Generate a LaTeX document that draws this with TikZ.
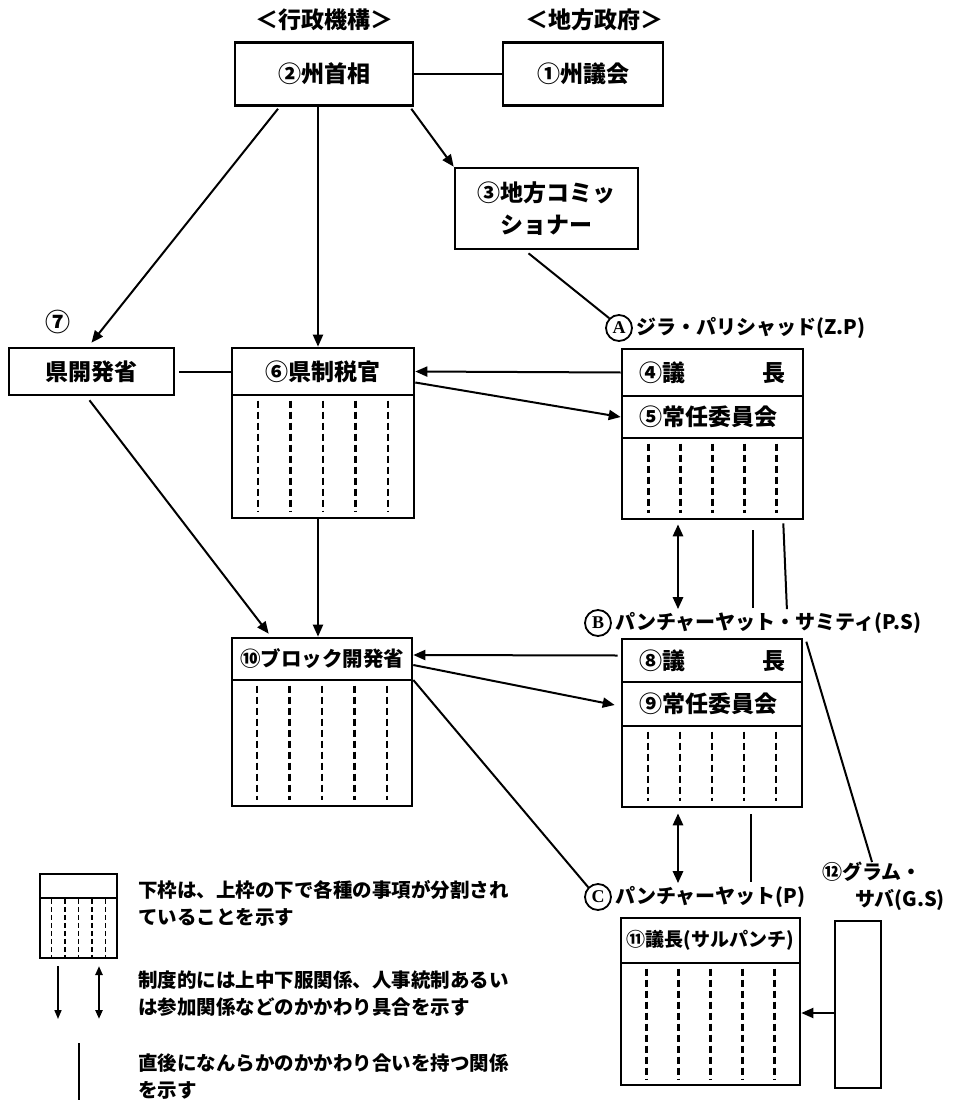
\documentclass[tikz,border=0pt]{standalone}
\usepackage{fontspec}
\setmainfont{Noto Sans CJK JP}
\newfontfamily\lserif{Liberation Serif}
\usetikzlibrary{arrows.meta,calc}
\newcommand\splitlines[2]{%
  \foreach \dx in {-2,-1,0,1,2}{%
    \draw[splitdash] ($(#1.north)+(\dx*#2,7)$) -- ($(#1.south)+(\dx*#2,-7)$);}}
\begin{document}
\begin{tikzpicture}[x=1pt,y=-1pt,
  box/.style={draw, line width=2.6pt, inner sep=0pt, font=\bfseries\fontsize{23}{32}\selectfont},
  lbl/.style={font=\bfseries\fontsize{20}{26}\selectfont, inner sep=0pt, anchor=west},
  leg/.style={font=\bfseries\fontsize{19.5}{27}\selectfont, anchor=west, inner sep=0pt, align=left},
  circ/.style={circle, draw, line width=1.8pt, minimum size=26pt, inner sep=0pt, font=\lserif\bfseries\fontsize{18}{18}\selectfont},
  title/.style={font=\bfseries\fontsize{23}{27}\selectfont, inner sep=0pt},
  conn/.style={line width=2pt},
  arr/.style={line width=2pt, -{Triangle[length=12pt,width=10pt]}},
  dbl/.style={line width=2.6pt, {Triangle[length=12pt,width=10pt]}-{Triangle[length=12pt,width=10pt]}},
  splitdash/.style={line width=2.4pt, dash pattern=on 7pt off 4pt}]
\useasboundingbox (0,0) rectangle (953,1102);

% titles
\node[title] (t1) at (324,20) {＜行政機構＞};
\node[title] (t2) at (594,20) {＜地方政府＞};

% top boxes
\node[box, minimum width=178, minimum height=63] (n2) at (324,74) {②州首相};
\node[box, minimum width=160, minimum height=63] (n1) at (583,74) {①州議会};
\node[box, minimum width=183, minimum height=81, align=center] (n3) at (546.5,208.5) {③地方コミッ\\ショナー};

% district level
\node[font=\bfseries\fontsize{25}{25}\selectfont, inner sep=0pt] (l7) at (58,322) {⑦};
\node[box, minimum width=165, minimum height=47] (n7) at (91.5,371.5) {県開発省};
\node[box, minimum width=182, minimum height=47] (n6) at (323,371.5) {⑥県制税官};
\node[box, minimum width=182, minimum height=123] (n6b) at (323,456.5) {};
\splitlines{n6b}{32.5}

% Zila Parishad
\node[circ] (cA) at (619,328) {A};
\node[lbl] (lA) at ($(cA.east)+(3,0)$) {ジラ・パリシャッド(Z.P)};
\node[box, minimum width=181, minimum height=47, text width=146, align=left] (n4) at (712.5,372.5) {④議\hfill 長};
\node[box, minimum width=181, minimum height=42, text width=146, align=left] (n5) at (712.5,417) {⑤常任委員会};
\node[box, minimum width=181, minimum height=81] (nzpb) at (712.5,478.5) {};
\splitlines{nzpb}{32}

% Block
\node[box, minimum width=180, minimum height=42, font=\bfseries\fontsize{20.5}{26}\selectfont] (n10) at (322,659) {⑩ブロック開発省};
\node[box, minimum width=180, minimum height=126] (n10b) at (322,743) {};
\splitlines{n10b}{32.5}

% Panchayat Samiti
\node[circ] (cB) at (598,623) {B};
\node[lbl] (lB) at ($(cB.east)+(3,0)$) {パンチャーヤット・サミティ(P.S)};
\node[box, minimum width=180, minimum height=43, text width=146, align=left] (n8) at (712,660.5) {⑧議\hfill 長};
\node[box, minimum width=180, minimum height=44, text width=146, align=left] (n9) at (712,704) {⑨常任委員会};
\node[box, minimum width=180, minimum height=81] (npsb) at (712,766.5) {};
\splitlines{npsb}{32}

% Panchayat
\node[circ] (cC) at (598,897) {C};
\node[lbl] (lC) at ($(cC.east)+(3,0)$) {パンチャーヤット(P)};
\node[box, minimum width=179, minimum height=45, font=\bfseries\fontsize{19}{24}\selectfont] (n11) at (710.5,940.5) {⑪議長(サルパンチ)};
\node[box, minimum width=179, minimum height=122] (n11b) at (710.5,1024) {};
\splitlines{n11b}{32}

% Gram Sabha
\node[lbl, anchor=center] (l12a) at (872,872) {⑫グラム・};
\node[lbl, anchor=center] (l12b) at (900,900) {サバ(G.S)};
\node[box, minimum width=46, minimum height=167] (ngs) at (858,1004.5) {};

% helper coordinates for the vertical links
\coordinate (zpL) at ($(nzpb.south)+(-34.5,4)$);
\coordinate (zpLe) at (zpL |- lB.north);
\coordinate (zpR) at ($(nzpb.south)+(40.5,10)$);
\coordinate (zpRe) at (zpR |- lB.north);
\coordinate (psL) at ($(npsb.south)+(-34,5)$);
\coordinate (psLe) at (psL |- lC.north);
\coordinate (psR) at ($(npsb.south)+(39,6)$);
\coordinate (psRe) at (psR |- lC.north);

% connectors
\draw[conn] (n2.east) -- (n1.west);
\draw[arr] ($(n2.south east)+(-3,2)$) -- (n3.north west);
\draw[arr] ($(n2.south)+(-6,0)$) -- ($(n6.north)+(-5,0)$);
\draw[arr] ($(n2.south)+(-46,2)$) -- ($(n7.north)+(0,-4)$);
\draw[conn] ($(n3.south)+(-18,3)$) -- (cA.north west);
\draw[conn] ($(n7.east)+(4,0)$) -- (n6.west);
\draw[arr] (n4.west) -- (n6.east);
\draw[arr] ($(n6.east)+(0,11)$) -- (n5.west);
\draw[arr] ($(n6b.south)+(-5,0)$) -- ($(n10.north)+(-4,0)$);
\draw[arr] ($(n7.south)+(-2,4)$) -- ($(n10.north west)+(38,-3)$);
\draw[arr] ($(n8.west)+(-3,-5)$) -- ($(n10.east)+(0,-4)$);
\draw[arr] ($(n10.east)+(0,6)$) -- ($(n9.west)+(-6,1)$);
\draw[conn] ($(n10.east)+(0,21)$) -- (cC.north west);

\draw[dbl] (zpL) -- ($(zpLe)+(0,-3)$);
\draw[conn] (zpR) -- ($(zpRe)+(0,-4)$);
\draw[conn] ($(nzpb.south east)+(-21,3)$) -- ($(lB.north west)+(172,-3)$);
\draw[conn] ($(n8.north east)+(3,4)$) -- (l12a.north);
\draw[dbl] (psL) -- ($(psLe)+(0,-3)$);
\draw[conn] (psR) -- ($(psRe)+(0,-4)$);
\draw[arr] ($(ngs.west)+(0,8.5)$) -- ($(n11b.east)+(0,-11)$);

% legend
\node[draw, line width=2.2pt, minimum width=77, minimum height=24, inner sep=0pt] (lg) at (78.5,886) {};
\node[draw, line width=2.2pt, minimum width=77, minimum height=60, inner sep=0pt] (lgb) at (78.5,928) {};
\foreach \dx in {-27,-13.5,0,13.5,27}{
  \draw[line width=1.6pt, dash pattern=on 5pt off 3pt] ($(lgb.north)+(\dx,2)$) -- ($(lgb.south)+(\dx,-2)$);}
\node[leg] (g1) at (138,903.5) {下枠は、上枠の下で各種の事項が分割され\\ていることを示す};
\coordinate (a1s) at (58,966);
\coordinate (a1e) at (58,1019);
\coordinate (a2s) at (99,966);
\coordinate (a2e) at (99,1019);
\draw[line width=1.6pt, -{Triangle[length=9pt,width=7pt]}] (a1s) -- (a1e);
\draw[line width=2.2pt, {Triangle[length=9pt,width=7pt]}-{Triangle[length=9pt,width=7pt]}] (a2s) -- (a2e);
\node[leg] (g2) at (138,993.5) {制度的には上中下服関係、人事統制あるい\\は参加関係などのかかわり具合を示す};
\coordinate (l3s) at (79,1043);
\coordinate (l3e) at (79,1100);
\draw[line width=1.6pt] (l3s) -- (l3e);
\node[leg] (g3) at (138,1076.5) {直後になんらかのかかわり合いを持つ関係\\を示す};
\end{tikzpicture}
\end{document}
